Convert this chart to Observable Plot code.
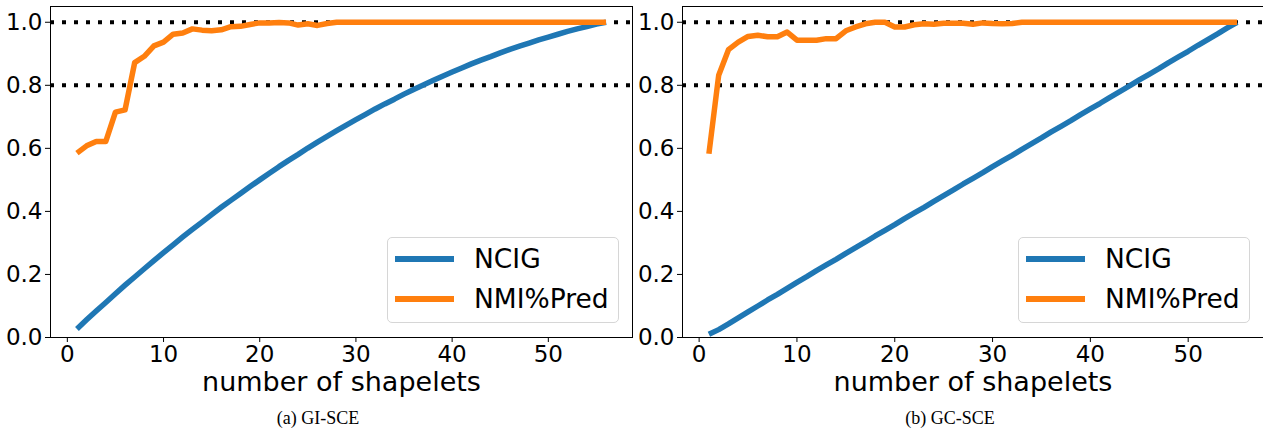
<!DOCTYPE html>
<html><head><meta charset="utf-8">
<script src="https://cdn.jsdelivr.net/npm/d3@7"></script>
<script src="https://cdn.jsdelivr.net/npm/@observablehq/plot@0.6"></script>
<style>
body{margin:0;background:#fff;}
#wrap{position:relative;width:1263px;height:432px;overflow:hidden;font-family:"DejaVu Sans";}
.panel{position:absolute;top:0;}
.legend{position:absolute;top:237px;width:230px;height:84px;border:1px solid #d6d6d6;border-radius:5px;background:rgba(255,255,255,0.8);}
.sw{position:absolute;left:7px;width:59px;height:5.5px;}
.lt{position:absolute;left:86px;font-family:"DejaVu Sans";font-size:26.5px;line-height:30px;color:#000;}
.caption{position:absolute;top:408px;font-family:"Liberation Serif";font-size:18px;transform:translateX(-50%);white-space:nowrap;color:#000;}
</style></head>
<body>
<div id="wrap"></div>
<script>
// ---------- data ----------
const seriesNames = ["NCIG", "NMI%Pred"];
const seriesColors = ["#1f77b4", "#ff7f0e"];
const xTicks = [0, 10, 20, 30, 40, 50];
const yTicks = [0.0, 0.2, 0.4, 0.6, 0.8, 1.0];
const refLines = [0.8, 1.0];
const captions = ["(a) GI-SCE", "(b) GC-SCE"];
const xLabel = "number of shapelets";

const shapeletsA = [1,2,3,4,5,6,7,8,9,10,11,12,13,14,15,16,17,18,19,20,21,22,23,24,25,26,27,28,29,30,31,32,33,34,35,36,37,38,39,40,41,42,43,44,45,46,47,48,49,50,51,52,53,54,55,56];
const ncigA = [0.027,0.056,0.084,0.111,0.139,0.166,0.192,0.218,0.244,0.269,0.294,0.319,0.343,0.366,0.390,0.413,0.435,0.457,0.479,0.500,0.521,0.542,0.562,0.581,0.601,0.620,0.638,0.656,0.674,0.691,0.708,0.725,0.741,0.756,0.772,0.787,0.801,0.815,0.829,0.842,0.855,0.868,0.880,0.891,0.903,0.914,0.924,0.934,0.944,0.953,0.962,0.971,0.979,0.986,0.994,1.000];
const nmiA = [0.585,0.608,0.622,0.622,0.715,0.722,0.872,0.892,0.925,0.937,0.962,0.966,0.979,0.975,0.973,0.976,0.986,0.987,0.993,0.998,0.998,0.999,0.998,0.991,0.995,0.990,0.996,1,1,1,1,1,1,1,1,1,1,1,1,1,1,1,1,1,1,1,1,1,1,1,1,1,1,1,1,1];

const shapeletsB = [1,2,3,4,5,6,7,8,9,10,11,12,13,14,15,16,17,18,19,20,21,22,23,24,25,26,27,28,29,30,31,32,33,34,35,36,37,38,39,40,41,42,43,44,45,46,47,48,49,50,51,52,53,54,55];
const ncigB = [0.010,0.025,0.043,0.062,0.081,0.100,0.119,0.137,0.156,0.175,0.193,0.212,0.230,0.248,0.267,0.285,0.303,0.322,0.340,0.358,0.377,0.395,0.413,0.432,0.450,0.468,0.487,0.505,0.523,0.542,0.560,0.578,0.597,0.615,0.633,0.652,0.670,0.688,0.707,0.725,0.743,0.762,0.780,0.798,0.817,0.835,0.853,0.872,0.890,0.908,0.927,0.945,0.963,0.982,1.000];
const nmiB = [0.583,0.832,0.913,0.937,0.955,0.959,0.954,0.954,0.969,0.943,0.943,0.943,0.948,0.948,0.973,0.985,0.995,1.0,1.0,0.985,0.985,0.992,0.995,0.994,0.997,0.997,0.997,0.994,0.998,0.996,0.995,0.996,1,1,1,1,1,1,1,1,1,1,1,1,1,1,1,1,1,1,1,1,1,1,1];

// ---------- drawing ----------
const wrap = document.getElementById("wrap");

function makePanel(xs, ncig, nmi, xDomain, left, width, mLeft, mRight, caption, captionX, legendLeft) {
  const dN = xs.map((x, i) => ({x, y: ncig[i]}));
  const dO = xs.map((x, i) => ({x, y: nmi[i]}));
  const chart = Plot.plot({
    width, height: 400,
    marginLeft: mLeft, marginRight: mRight, marginTop: 6, marginBottom: 63,
    style: {fontFamily: "DejaVu Sans", fontSize: "23px", color: "#000", background: "transparent", overflow: "visible"},
    x: {domain: xDomain, ticks: xTicks, tickFormat: d3.format("d"), label: null, tickSize: 5, tickPadding: 3},
    y: {domain: [0, 1.05], ticks: yTicks, tickFormat: d3.format(".1f"), label: null, tickSize: 5, tickPadding: 3},
    marks: [
      Plot.ruleY(refLines, {stroke: "#000", strokeWidth: 4, strokeDasharray: "4,8"}),
      Plot.line(dN, {x: "x", y: "y", stroke: seriesColors[0], strokeWidth: 5.5, strokeLinecap: "butt"}),
      Plot.line(dO, {x: "x", y: "y", stroke: seriesColors[1], strokeWidth: 5.5, strokeLinecap: "butt"}),
      Plot.frame({stroke: "#000", strokeWidth: 1}),
      Plot.text([xLabel], {frameAnchor: "bottom", dy: 45, fontSize: 27, lineAnchor: "middle", fill: "#000"})
    ]
  });
  const div = document.createElement("div");
  div.className = "panel";
  div.style.left = left + "px";
  div.appendChild(chart);
  wrap.appendChild(div);

  const lg = document.createElement("div");
  lg.className = "legend";
  lg.style.left = legendLeft + "px";
  seriesNames.forEach((name, i) => {
    const sw = document.createElement("div");
    sw.className = "sw";
    sw.style.top = (18 + 40 * i) + "px";
    sw.style.background = seriesColors[i];
    lg.appendChild(sw);
    const t = document.createElement("div");
    t.className = "lt";
    t.style.top = (6 + 40 * i) + "px";
    t.textContent = name;
    lg.appendChild(t);
  });
  wrap.appendChild(lg);

  const cap = document.createElement("div");
  cap.className = "caption";
  cap.style.left = captionX + "px";
  cap.textContent = caption;
  wrap.appendChild(cap);
}

makePanel(shapeletsA, ncigA, nmiA, [-1.75, 58.75], 0, 640, 50, 8, captions[0], 318, 387);
makePanel(shapeletsB, ncigB, nmiB, [-1.7, 57.7], 632, 631, 50, 0, captions[1], 950, 1018);
</script>
</body></html>
